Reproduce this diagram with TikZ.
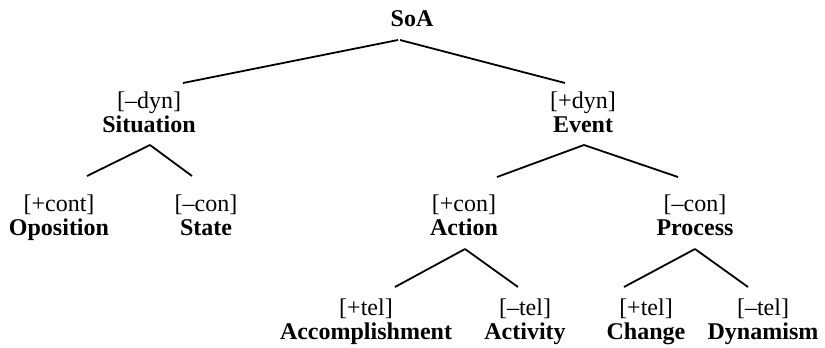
\documentclass[tikz,border=0pt]{standalone}
\usepackage{fontspec}
\setmainfont{Liberation Serif}
\usetikzlibrary{calc}
\begin{document}
\begin{tikzpicture}[x=0.5pt,y=-0.5pt,
  cn/.style={align=center, inner sep=0pt, font=\fontsize{12}{12}\selectfont},
  edge/.style={line width=0.9pt}]
\useasboundingbox (0,0) rectangle (825,348);
\node[cn] (soa) at (412,22) {\strut\textbf{SoA}};
\node[cn] (sit) at (149,116) {\strut[\textendash dyn]\\\strut\textbf{Situation}};
\node[cn] (evt) at (583,116) {\strut[+dyn]\\\strut\textbf{Event}};
\node[cn] (opo) at (59,219) {\strut[+cont]\\\strut\textbf{Oposition}};
\node[cn] (sta) at (206,219) {\strut[\textendash con]\\\strut\textbf{State}};
\node[cn] (act) at (464,219) {\strut[+con]\\\strut\textbf{Action}};
\node[cn] (pro) at (695,219) {\strut[\textendash con]\\\strut\textbf{Process}};
\node[cn] (acc) at (366,323) {\strut[+tel]\\\strut\textbf{Accomplishment}};
\node[cn] (acv) at (525,323) {\strut[\textendash tel]\\\strut\textbf{Activity}};
\node[cn] (chg) at (646,323) {\strut[+tel]\\\strut\textbf{Change}};
\node[cn] (dyn) at (763,323) {\strut[\textendash tel]\\\strut\textbf{Dynamism}};
\draw[edge] ($(soa)+(-14,18)$) -- ($(sit)+(34,-33)$);
\draw[edge] ($(soa)+(-12,18)$) -- ($(evt)+(-18,-33)$);
\draw[edge] ($(sit)+(1,29)$) -- ($(opo)+(28,-43)$);
\draw[edge] ($(sit)+(1,29)$) -- ($(sta)+(-14,-43)$);
\draw[edge] ($(evt)+(1,29)$) -- ($(act)+(33,-42)$);
\draw[edge] ($(evt)+(1,29)$) -- ($(pro)+(-17,-42)$);
\draw[edge] ($(act)+(1,30)$) -- ($(acc)+(29,-36)$);
\draw[edge] ($(act)+(1,30)$) -- ($(acv)+(-7,-36)$);
\draw[edge] ($(pro)+(0,30)$) -- ($(chg)+(-22,-36)$);
\draw[edge] ($(pro)+(0,30)$) -- ($(dyn)+(-15,-36)$);
\end{tikzpicture}
\end{document}
